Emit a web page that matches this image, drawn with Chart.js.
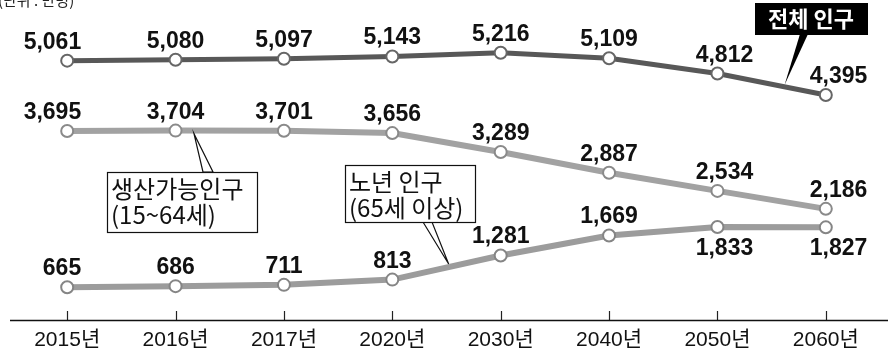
<!DOCTYPE html>
<html>
<head>
<meta charset="utf-8">
<script src="https://cdn.jsdelivr.net/npm/chart.js@4.4.1/dist/chart.umd.min.js"></script>
<style>
  html, body { margin: 0; padding: 0; background: #fff; }
  #wrap { width: 888px; height: 353px; position: relative; }
</style>
</head>
<body>
<div id="wrap"><canvas id="chart"></canvas></div>
<script>
// 단위: 만명
const years = ["2015년", "2016년", "2017년", "2020년", "2030년", "2040년", "2050년", "2060년"];
const total = [5061, 5080, 5097, 5143, 5216, 5109, 4812, 4395];
const working = [3695, 3704, 3701, 3656, 3289, 2887, 2534, 2186];
const elderly = [665, 686, 711, 813, 1281, 1669, 1833, 1827];

// 값 라벨을 점 아래에 두는 항목 (dataset index -> point index)
const labelsBelow = { 2: [6, 7] };

const numFont = "bold 23px 'Liberation Sans', Arial, sans-serif";
const krFont = "'Noto Sans CJK KR', 'Liberation Sans', sans-serif";

const fmt = (v) => v.toLocaleString("en-US");

// x축 위로 올라오는 눈금
const tickMarks = {
  id: "tickMarks",
  beforeDatasetsDraw(chart) {
    const { ctx, chartArea, scales } = chart;
    ctx.save();
    ctx.strokeStyle = "#222";
    ctx.lineWidth = 1.2;
    scales.x.ticks.forEach((t, i) => {
      const x = Math.round(scales.x.getPixelForTick(i)) + 0.5;
      ctx.beginPath();
      ctx.moveTo(x, chartArea.bottom);
      ctx.lineTo(x, chartArea.bottom - 9);
      ctx.stroke();
    });
    // 축선
    ctx.strokeStyle = "#111";
    ctx.lineWidth = 1.5;
    ctx.beginPath();
    ctx.moveTo(10, chartArea.bottom + 0.5);
    ctx.lineTo(chart.width, chartArea.bottom + 0.5);
    ctx.stroke();
    ctx.restore();
  },
};

// 점 위아래 숫자
const valueLabels = {
  id: "valueLabels",
  afterDatasetsDraw(chart) {
    const { ctx } = chart;
    ctx.save();
    ctx.font = numFont;
    ctx.fillStyle = "#111";
    ctx.textBaseline = "alphabetic";
    chart.data.datasets.forEach((ds, di) => {
      const meta = chart.getDatasetMeta(di);
      const below = labelsBelow[di] || [];
      meta.data.forEach((pt, i) => {
        let x = pt.x;
        let align = "center";
        if (i === 0) { align = "right"; x += 14; }
        else if (i === ds.data.length - 1) { align = "left"; x -= 16; }
        else if (i === 6) { x += 7; }
        const y = below.includes(i) ? pt.y + 28 : pt.y - 12;
        ctx.textAlign = align;
        ctx.fillText(fmt(ds.data[i]), x, y);
      });
    });
    ctx.restore();
  },
};

// 선 위의 한 지점 (두 점 사이 비율)
function onLine(chart, di, i, f) {
  const pts = chart.getDatasetMeta(di).data;
  const a = pts[i], b = pts[i + 1];
  return { x: a.x + (b.x - a.x) * f, y: a.y + (b.y - a.y) * f };
}

// 설명 상자와 지시선
const callouts = {
  id: "callouts",
  afterDatasetsDraw(chart) {
    const { ctx } = chart;
    ctx.save();

    // 전체 인구 (검은 상자)
    let tip = onLine(chart, 0, 6, 0.62);
    ctx.fillStyle = "#000";
    ctx.beginPath();
    ctx.moveTo(800, 34);
    ctx.lineTo(808, 34);
    ctx.lineTo(tip.x, tip.y - 2);
    ctx.closePath();
    ctx.fill();
    ctx.fillRect(755, 3, 113, 32);
    ctx.fillStyle = "#fff";
    ctx.font = "bold 22px " + krFont;
    ctx.textAlign = "center";
    ctx.textBaseline = "middle";
    ctx.fillText("전체 인구", 811, 19);

    // 흰 상자 공통
    const box = (x, y, w, h, lines, p1, p2, tipPt) => {
      const edge = y > tipPt.y ? y : y + h;
      ctx.fillStyle = "#fff";
      ctx.strokeStyle = "#111";
      ctx.lineWidth = 1.2;
      ctx.beginPath();
      ctx.moveTo(p1, edge);
      ctx.lineTo(tipPt.x, tipPt.y);
      ctx.lineTo(p2, edge);
      ctx.closePath();
      ctx.fill();
      ctx.stroke();
      ctx.fillRect(x, y, w, h);
      ctx.strokeRect(x + 0.5, y + 0.5, w, h);
      ctx.fillStyle = "#111";
      ctx.font = "24px " + krFont;
      ctx.textAlign = "left";
      ctx.textBaseline = "middle";
      lines.forEach((t, k) => ctx.fillText(t, x + 4, y + 17 + k * 26));
    };

    tip = onLine(chart, 1, 1, 0.17);
    box(107, 172, 150, 60, ["생산가능인구", "(15~64세)"], 203, 213, { x: tip.x, y: tip.y + 3 });

    tip = onLine(chart, 2, 3, 0.52);
    box(345, 165, 130, 57, ["노년 인구", "(65세 이상)"], 423, 432, { x: tip.x, y: tip.y - 3 });

    // 단위
    ctx.fillStyle = "#222";
    ctx.font = "15px " + krFont;
    ctx.textAlign = "left";
    ctx.textBaseline = "alphabetic";
    ctx.fillText("(단위 : 만명)", -2, 6);

    ctx.restore();
  },
};

const pointStyle = {
  pointRadius: 6,
  pointBorderWidth: 2,
  pointBackgroundColor: "#fff",
};

new Chart(document.getElementById("chart"), {
  type: "line",
  data: {
    labels: years,
    datasets: [
      { data: total, borderColor: "#585858", borderWidth: 5, pointBorderColor: "#666", ...pointStyle },
      { data: working, borderColor: "#a2a2a2", borderWidth: 6, pointBorderColor: "#8a8a8a", ...pointStyle },
      { data: elderly, borderColor: "#9c9c9c", borderWidth: 6, pointBorderColor: "#858585", ...pointStyle },
    ],
  },
  options: {
    responsive: true,
    maintainAspectRatio: false,
    animation: false,
    layout: { padding: { left: 13, right: 0, top: 0, bottom: 0 } },
    plugins: { legend: { display: false }, tooltip: { enabled: false } },
    scales: {
      x: {
        offset: true,
        grid: { display: false },
        border: { display: false },
        ticks: {
          color: "#111",
          font: { family: "'Liberation Sans', 'Noto Sans CJK KR', sans-serif", size: 21 },
          padding: 0,
        },
        afterFit(scale) { scale.height = 33; },
      },
      y: { display: false, min: 29, max: 6083 },
    },
  },
  plugins: [tickMarks, valueLabels, callouts],
});
</script>
</body>
</html>
